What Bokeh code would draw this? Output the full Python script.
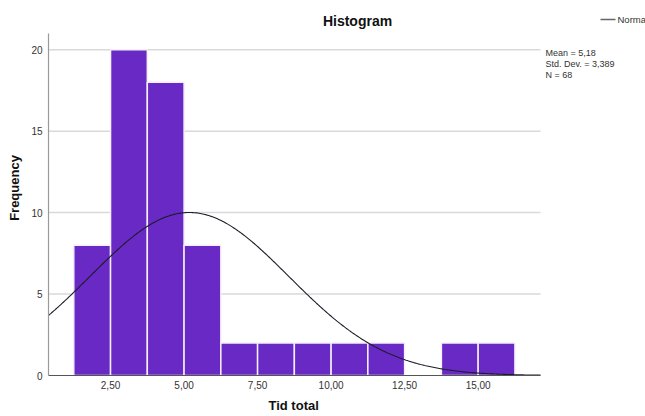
import numpy as np
from bokeh.plotting import figure
from bokeh.models import Range1d, FixedTicker, Label, Arrow, Title
from bokeh.embed import file_html
from bokeh.resources import INLINE

# Histogram of "Tid total": bin starts and frequencies
bin_left = [1.25, 2.5, 3.75, 5.0, 6.25, 7.5, 8.75, 10.0, 11.25, 12.5, 13.75, 15.0]
counts = [8, 20, 18, 8, 2, 2, 2, 2, 2, 0, 2, 2]
bin_width = 1.25

# Summary statistics for the fitted normal curve
mean = 5.18
std_dev = 3.389
n_obs = 68
stats_lines = ["Mean = 5,18", "Std. Dev. = 3,389", "N = 68"]

x_ticks = [2.5, 5.0, 7.5, 10.0, 12.5, 15.0]
x_tick_labels = ["2,50", "5,00", "7,50", "10,00", "12,50", "15,00"]
y_ticks = [0, 5, 10, 15, 20]

FONT = "Liberation Sans"
W, H = 645, 416
# The frame reaches the top and right canvas edges so that the title,
# legend and statistics can sit inside it; the axes are bounded to the
# actual data area (x from 0.39 to 17.12, y from 0 to 21).
FL, FB = 48, 376
AREA_R, AREA_T = 540, 33
XA0, XA1 = 0.39, 17.12
YA0, YA1 = 0.0, 21.0
PX_X = (AREA_R - FL) / (XA1 - XA0)
PX_Y = (FB - AREA_T) / (YA1 - YA0)
X1 = XA0 + (W - FL) / PX_X
Y1 = YA0 + FB / PX_Y


def data_x(px):
    return XA0 + (px - FL) / PX_X


def data_y(py):
    return YA0 + (FB - py) / PX_Y


p = figure(width=W, height=H, output_backend="svg", toolbar_location=None,
           x_range=Range1d(XA0, X1), y_range=Range1d(YA0, Y1),
           min_border_left=FL, min_border_right=0,
           min_border_top=0, min_border_bottom=H - FB)
p.outline_line_color = None
p.background_fill_color = "white"
p.border_fill_color = "white"
p.xgrid.visible = False
p.ygrid.visible = False

# horizontal grid lines across the data area
grid_y = y_ticks[1:]
p.segment(x0=[XA0] * len(grid_y), x1=[XA1] * len(grid_y), y0=grid_y, y1=grid_y,
          line_color="#d9d9d9", line_width=1.5)

# bars
lefts = [l for l, c in zip(bin_left, counts) if c > 0]
tops = [c for c in counts if c > 0]
rights = [l + bin_width for l in lefts]
p.quad(left=lefts, right=rights, bottom=0, top=tops,
       fill_color="#6929c4", line_color="#f4effb", line_width=1.5)

# fitted normal curve scaled to frequencies
xs = np.linspace(XA0, XA1, 400)
scale = n_obs * bin_width / (std_dev * np.sqrt(2 * np.pi))
ys = scale * np.exp(-0.5 * ((xs - mean) / std_dev) ** 2)
p.line(xs, ys, line_color="#1c1c28", line_width=1.1)

# axes
p.xaxis.ticker = FixedTicker(ticks=x_ticks)
p.xaxis.major_label_overrides = {t: s for t, s in zip(x_ticks, x_tick_labels)}
p.yaxis.ticker = FixedTicker(ticks=y_ticks)
p.xaxis.bounds = (XA0, XA1)
p.yaxis.bounds = (YA0, YA1)
for ax in (p.xaxis, p.yaxis):
    ax.major_tick_line_color = None
    ax.minor_tick_line_color = None
    ax.major_tick_out = 0
    ax.major_tick_in = 0
    ax.minor_tick_out = 0
    ax.major_label_text_font = FONT
    ax.major_label_text_font_size = "10px"
    ax.major_label_text_color = "#333333"
p.xaxis.axis_line_color = "#555555"
p.xaxis.axis_line_width = 1.2
p.xaxis.major_label_standoff = 5
p.yaxis.axis_line_color = "#9a9a9a"
p.yaxis.axis_line_width = 1.2
p.yaxis.major_label_standoff = 6

p.yaxis.axis_label = "Frequency"
p.yaxis.axis_label_text_font = FONT
p.yaxis.axis_label_text_font_style = "bold"
p.yaxis.axis_label_text_font_size = "13px"
p.yaxis.axis_label_text_color = "#111111"
p.yaxis.axis_label_standoff = 6

# x-axis title under the data area
p.add_layout(Title(text="Tid total", align="left", offset=268 - FL,
                   text_font=FONT, text_font_style="bold",
                   text_font_size="13px", text_color="#111111",
                   standoff=8), "below")

# chart title
p.add_layout(Label(x=data_x(357), y=data_y(21), text="Histogram",
                   text_align="center", text_baseline="middle",
                   text_font=FONT, text_font_style="bold",
                   text_font_size="14px", text_color="#111111"))

# legend entry for the normal curve
p.add_layout(Arrow(end=None, x_start=data_x(600), y_start=data_y(19),
                   x_end=data_x(615), y_end=data_y(19),
                   line_color="#666666", line_width=1.5))
p.add_layout(Label(x=data_x(617), y=data_y(19), text="Norma",
                   text_align="left", text_baseline="middle",
                   text_font=FONT, text_font_size="9.5px", text_color="#333333"))

# statistics block
for i, line in enumerate(stats_lines):
    p.add_layout(Label(x=data_x(545), y=data_y(53 + 11 * i), text=line,
                       text_align="left", text_baseline="middle",
                       text_font=FONT, text_font_size="9px",
                       text_color="#333333"))

open("out.html", "w").write(file_html(p, INLINE))
